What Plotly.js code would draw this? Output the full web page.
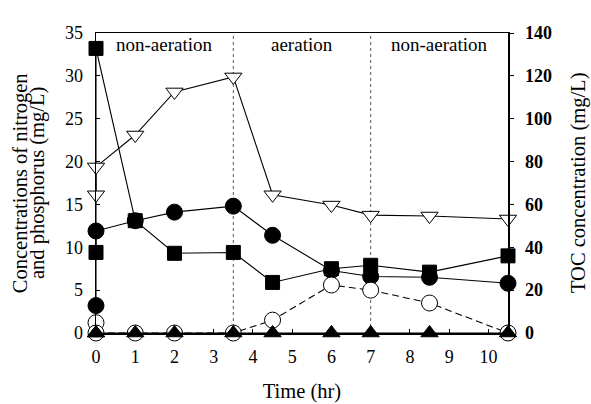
<!DOCTYPE html>
<html>
<head>
<meta charset="utf-8">
<script src="https://cdn.plot.ly/plotly-3.0.1.min.js"></script>
<style>
  html, body { margin: 0; padding: 0; background: #fff; }
  #chart { width: 591px; height: 404px; }
</style>
</head>
<body>
<div id="chart"></div>
<script>
// Sampling times (hr); t = 0 appears twice: before and after feeding
const timeHr = [0, 0, 1, 2, 3.5, 4.5, 6, 7, 8.5, 10.5];

// Nitrogen / phosphorus concentrations (mg/L), left axis
const filledSquareConc   = [9.4, 33.2, 13.1, 9.3, 9.4, 5.9, 7.5, 7.9, 7.1, 9.0];
const filledCircleConc   = [3.2, 11.9, 13.1, 14.1, 14.8, 11.4, 7.3, 6.6, 6.5, 5.8];
const openCircleConc     = [1.2, 0, 0, 0, 0, 1.5, 5.6, 5.0, 3.5, 0];
const filledTriangleConc = [0, 0, 0, 0, 0, 0, 0, 0, 0, 0];

// TOC concentration (mg/L), right axis
const tocConc = [64.5, 77.5, 92.4, 112.5, 119.5, 64.5, 59.7, 55.0, 54.6, 53.2];

// Operating phases
const phaseEdges  = [0, 3.5, 7, 10.5];
const phaseLabels = ['non-aeration', 'aeration', 'non-aeration'];

// Axis ticks
const xTicks  = [0, 1, 2, 3, 4, 5, 6, 7, 8, 9, 10];
const yTicks  = [0, 5, 10, 15, 20, 25, 30, 35];
const y2Ticks = [0, 20, 40, 60, 80, 100, 120, 140];

const SERIF = 'Liberation Serif';
const solid = { color: 'black', width: 1.1 };

function series(y, symbol, fill, size, line, yaxis) {
  return {
    type: 'scatter', mode: 'lines+markers',
    x: timeHr, y: y, yaxis: yaxis || 'y',
    cliponaxis: false,
    line: line,
    marker: { symbol: symbol, size: size, color: fill,
              line: { color: 'black', width: 1 } },
    hoverinfo: 'x+y'
  };
}

const traces = [
  series(filledSquareConc, 'square', 'black', 14, solid),
  series(filledCircleConc, 'circle', 'black', 16, solid),
  series(openCircleConc, 'circle', 'white', 16,
         { color: 'black', width: 1.1, dash: '7px,4px' }),
  series(filledTriangleConc, 'triangle-up', 'black', 15, solid),
  series(tocConc, 'triangle-down', 'white', 15, solid, 'y2')
];

// Dotted boundaries between phases
const shapes = phaseEdges.slice(1, -1).map(x => ({
  type: 'line', xref: 'x', yref: 'paper',
  x0: x, x1: x, y0: 0, y1: 1,
  line: { color: '#555', width: 1, dash: 'dot' },
  layer: 'below'
}));

const annotations = phaseLabels.map((txt, i) => ({
  text: txt, xref: 'x', yref: 'paper',
  x: (phaseEdges[i] + phaseEdges[i + 1]) / 2, y: 0.963,
  xanchor: 'center', yanchor: 'middle',
  showarrow: false, font: { family: SERIF, size: 19, color: 'black' }
}));

// Axis titles
function sideTitle(text, x) {
  return { text: text, xref: 'paper', yref: 'paper', x: x, y: 0.5,
           xanchor: 'center', yanchor: 'middle', textangle: -90, showarrow: false,
           font: { family: SERIF, size: 20.5, color: 'black' } };
}
annotations.push(
  sideTitle('Concentrations of nitrogen', -0.184),
  sideTitle('and phosphorus (mg/L)', -0.143),
  sideTitle('TOC concentration (mg/L)', 1.17)
);

const axisBase = {
  showline: true, linecolor: 'black', linewidth: 1.5,
  showgrid: false, zeroline: false,
  tickcolor: 'black', tickwidth: 1, ticklen: 4
};

const layout = {
  width: 591, height: 404,
  margin: { l: 96, r: 83, t: 33, b: 71 },
  paper_bgcolor: 'white', plot_bgcolor: 'white',
  font: { family: SERIF, color: 'black', size: 18 },
  showlegend: false,
  xaxis: Object.assign({}, axisBase, {
    range: [0, 10.5], tickvals: xTicks, ticks: 'inside', mirror: true,
    ticklabelstandoff: 7,
    tickfont: { family: SERIF, size: 18, color: 'black' },
    title: { text: 'Time (hr)', font: { family: SERIF, size: 20.5 }, standoff: 17 }
  }),
  yaxis: Object.assign({}, axisBase, {
    range: [0, 35], tickvals: yTicks, ticks: 'inside',
    ticklabelstandoff: 8,
    tickfont: { family: SERIF, size: 18, color: 'black' }
  }),
  yaxis2: Object.assign({}, axisBase, {
    range: [0, 140], tickvals: y2Ticks, ticks: 'outside',
    overlaying: 'y', side: 'right', ticklabelstandoff: 8,
    tickfont: { family: SERIF, size: 18, color: 'black', weight: 'bold' }
  }),
  shapes: shapes,
  annotations: annotations
};

Plotly.newPlot('chart', traces, layout, { displayModeBar: false, staticPlot: true });
</script>
</body>
</html>
